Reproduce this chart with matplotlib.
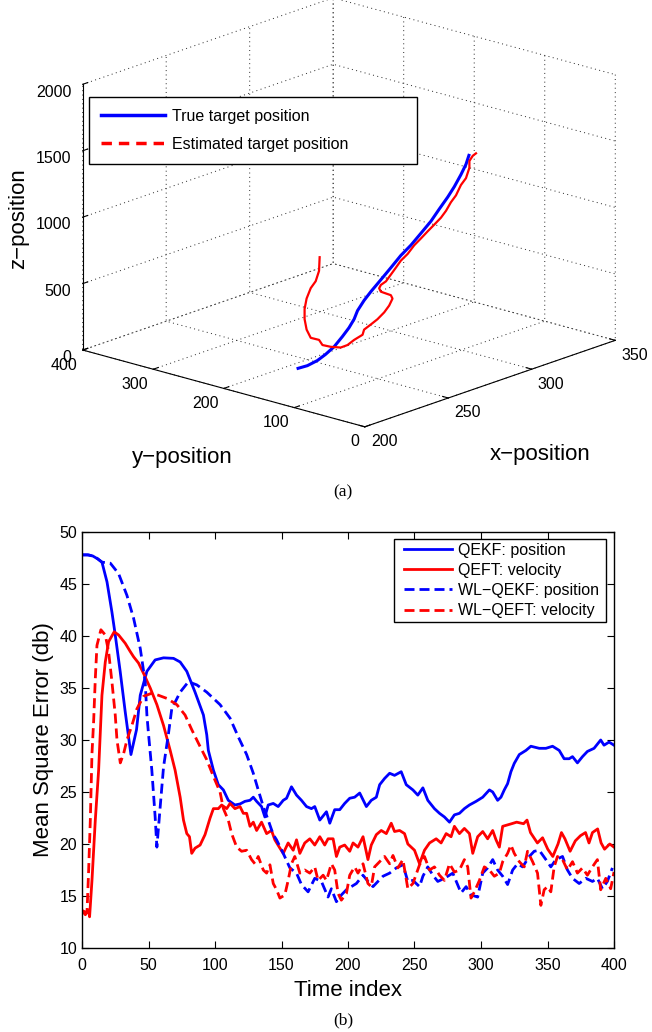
import matplotlib
matplotlib.use('Agg')
import matplotlib.pyplot as plt
from matplotlib.lines import Line2D
from matplotlib.legend_handler import HandlerLine2D

plt.rcParams['font.family'] = ['Liberation Sans', 'DejaVu Sans']
plt.rcParams['grid.linestyle'] = (0, (1, 3.5))
plt.rcParams['grid.color'] = '0.15'
plt.rcParams['grid.linewidth'] = 0.7

# ---------------- (a) 3-D trajectory ----------------
true_x = [238.3, 242.1, 245.6, 248.5, 251.5, 254.4, 256.7, 258.5, 259.7, 262.0, 264.4, 267.9,
          271.4, 274.9, 278.5, 282.0, 285.5, 288.4, 291.4, 293.7, 296.0, 297.8, 299.0]
true_y = [187.4, 181.1, 175.2, 170.4, 165.5, 160.5, 156.7, 153.7, 151.7, 147.8, 143.9, 138.0,
          132.1, 126.3, 120.4, 114.5, 108.6, 103.8, 98.8, 95.0, 91.0, 88.1, 86.1]
true_z = [0, 16, 48, 89, 140, 212, 273, 334, 396, 469, 530, 613,
          697, 782, 853, 936, 1020, 1105, 1190, 1263, 1350, 1424, 1500]

est_x = [246.4, 246.2, 245.0, 243.3, 241.8, 241.1, 241.1, 241.8, 243.3, 246.2, 247.4, 250.3,
         253.8, 256.2, 258.5, 261.5, 262.0, 264.4, 266.7, 269.1, 270.8, 272.0, 271.4, 269.7,
         267.9, 267.3, 267.9, 269.7, 271.4, 273.2, 274.9, 277.3, 279.6, 282.0, 284.3, 286.7,
         289.0, 290.8, 292.5, 294.3, 296.0, 297.8, 299.0, 299.0, 300.2, 301.3]
est_y = [173.9, 174.3, 176.2, 179.2, 181.5, 182.7, 182.7, 181.5, 179.2, 174.3, 172.3, 167.4,
         161.5, 157.6, 153.7, 148.8, 147.8, 143.9, 140.0, 136.1, 133.1, 131.2, 132.1, 135.1,
         138.0, 139.0, 138.0, 135.1, 132.1, 129.2, 126.3, 122.3, 118.4, 114.5, 110.6, 106.7,
         102.8, 99.8, 96.9, 94.0, 91.0, 88.1, 86.1, 86.1, 84.1, 82.2]
est_z = [824, 721, 646, 597, 522, 445, 368, 288, 223, 202, 161, 142,
         130, 144, 178, 211, 249, 283, 318, 365, 413, 463, 490, 506,
         523, 550, 574, 597, 645, 694, 743, 789, 850, 897, 945, 992,
         1039, 1088, 1149, 1197, 1272, 1320, 1396, 1447, 1484, 1500]

x3_ticks = [200, 250, 300, 350]
y3_ticks = [0, 100, 200, 300, 400]
z3_ticks = [0, 500, 1000, 1500, 2000]
legend_a = ['True target position', 'Estimated target position']

# ---------------- (b) mean square error ----------------
t_qekf = [0, 4, 8, 12, 15, 18.8, 22.5, 25, 28.7, 32.5,
          36.8, 41, 43.8, 48.8, 55, 61.3, 68.8, 73.8, 78.8, 85,
          91.3, 93.8, 95, 98.8, 102.5, 106.3, 110, 115, 118.8, 122.5,
          126.3, 128.8, 131.3, 135, 137.5, 140, 143.8, 147.5, 151.3, 153.8,
          157.5, 161.3, 165, 168.8, 172.5, 175, 178.8, 183.8, 186.3, 190,
          193.8, 197.5, 201.3, 205, 208.8, 213.8, 217.5, 221.3, 223.8, 227.5,
          231.3, 235, 240, 243.8, 248.8, 252.5, 256.3, 260, 265, 268.8,
          272.5, 276.3, 280, 283.8, 287.5, 291.3, 296.3, 301.3, 306.3, 308.8,
          312.5, 315, 317.5, 320, 322.5, 325, 328.8, 333.8, 337.5, 343.8,
          348.8, 353.8, 358.8, 362.5, 366.3, 368.8, 372.5, 376.3, 380, 385,
          390, 392.5, 396.3, 400]
v_qekf = [47.8, 47.8, 47.7, 47.4, 47.1, 45.2, 42.3, 40.1, 36.6, 32.7,
          28.6, 31.0, 34.3, 36.6, 37.7, 37.9, 37.85, 37.5, 36.6, 34.6,
          32.4, 30.5, 29.0, 27.1, 25.7, 25.2, 24.2, 23.75, 23.85, 24.1,
          24.2, 24.5, 24.1, 23.6, 22.6, 23.75, 23.9, 23.6, 24.2, 24.4,
          25.5, 24.7, 24.2, 23.6, 23.4, 23.6, 22.3, 23.1, 22.0, 23.3,
          23.3, 23.9, 24.4, 24.5, 24.9, 23.6, 24.2, 24.5, 25.7, 26.3,
          26.8, 26.6, 26.95, 25.7, 25.2, 24.7, 25.4, 24.2, 23.4, 22.95,
          22.6, 22.1, 22.8, 22.95, 23.4, 23.75, 24.1, 24.5, 25.2, 25.0,
          24.2, 24.5, 25.2, 25.8, 26.95, 27.75, 28.6, 29.0, 29.4, 29.2,
          29.2, 29.4, 29.0, 28.2, 28.2, 28.4, 27.8, 28.4, 28.9, 29.2,
          30.0, 29.5, 29.8, 29.5]

t_qeft = [0, 2.5, 5, 5.7, 7.5, 10, 12.5, 15, 17.5, 20,
          24.2, 27.5, 32.5, 36.3, 38.8, 42.5, 46.3, 51.3, 56.3, 61.3,
          66.3, 70, 73.8, 76.3, 78.8, 80.8, 82.5, 85, 88.8, 92.5,
          96.3, 98.8, 102.5, 105, 108.8, 111.3, 115, 118.8, 121.3, 123.8,
          126.3, 128.8, 131.3, 135, 138.8, 142.5, 145, 148.8, 151.3, 155,
          158.8, 161.3, 163.8, 167.5, 171.3, 175, 178.8, 182.5, 185, 188.8,
          191.3, 193.8, 197.5, 201.3, 203.8, 207.5, 211.3, 215, 217.5, 221.3,
          225, 228.8, 232.5, 235, 238.8, 242.5, 245, 250, 253.8, 257.5,
          261.3, 266.3, 270, 273.8, 277.5, 280, 283.8, 287.5, 291.3, 293.8,
          297.5, 301.3, 305, 308.8, 311.3, 313.8, 316.3, 323, 326.8, 332,
          334.6, 337.2, 342.4, 346.3, 350.2, 354, 357.9, 360.5, 363.1, 367,
          370.9, 374.8, 378.6, 381.2, 383.8, 387.7, 390.3, 392.9, 396.8, 400]
v_qeft = [13.6, 13.2, 13.65, 13.0, 16.5, 22.3, 27.1, 34.3, 37.5, 39.45,
          40.4, 40.1, 39.3, 38.5, 38.0, 37.4, 36.4, 35.0, 33.4, 31.4,
          29.0, 27.1, 24.5, 22.3, 21.0, 20.7, 19.1, 19.6, 19.9, 20.9,
          22.5, 23.4, 23.4, 23.75, 23.4, 23.9, 23.4, 23.6, 22.95, 22.95,
          21.7, 22.1, 21.3, 22.1, 21.0, 21.3, 20.4, 19.6, 19.1, 20.1,
          19.4, 20.4, 19.1, 20.1, 20.5, 19.9, 20.7, 19.9, 20.5, 20.5,
          18.8, 19.7, 19.9, 19.3, 20.1, 19.7, 20.7, 18.5, 19.9, 20.9,
          21.3, 21.0, 22.0, 21.2, 21.3, 21.0, 20.0, 19.4, 18.1, 19.4,
          20.1, 20.5, 20.1, 21.0, 20.7, 21.7, 21.0, 21.5, 21.0, 19.1,
          20.7, 21.2, 20.5, 21.3, 20.4, 19.7, 21.7, 21.95, 22.1, 21.95,
          22.3, 21.1, 20.1, 20.6, 19.5, 18.8, 20.0, 21.1, 20.5, 19.3,
          20.3, 20.8, 21.1, 20.1, 21.1, 21.45, 20.1, 19.5, 20.0, 19.7]

t_wlqekf = [0, 5, 10, 15, 21.3, 27.5, 33.8, 38.8, 43.8, 47.5,
            48.8, 50, 52.5, 55, 56.3, 58.8, 61.3, 65, 67.5, 73.8,
            80, 86.3, 93.8, 103.8, 111.3, 117.5, 123.8, 128.8, 132.5, 136.3,
            140, 143.8, 146.3, 151.3, 156.3, 161.3, 165, 170, 175, 180,
            185, 187.5, 191.3, 195, 198.8, 202.5, 206.3, 211.3, 215, 218.8,
            222.5, 226.3, 231.3, 236.3, 241.3, 245, 248.8, 253.8, 256.3, 260,
            263.8, 267.5, 272.5, 278.8, 285, 288.8, 292.5, 297.5, 301.3, 305,
            308.8, 312.5, 316.3, 320, 323.8, 327.5, 331.3, 336.3, 340, 343.8,
            348.8, 352.5, 356.3, 361.3, 365, 368.8, 373.8, 378.8, 383.8, 387.5,
            391.3, 395, 398.8]
v_wlqekf = [47.8, 47.8, 47.6, 47.1, 47.0, 46.0, 43.9, 41.7, 38.8, 35.6,
            32.4, 30.6, 27.1, 22.6, 19.7, 23.6, 27.4, 30.6, 33.0, 34.6,
            35.6, 35.3, 34.6, 33.4, 32.1, 30.3, 28.6, 26.8, 25.2, 23.6,
            22.3, 20.9, 20.4, 19.1, 17.7, 17.2, 16.1, 15.4, 16.7, 16.4,
            14.9, 15.7, 14.45, 15.1, 15.6, 15.9, 16.2, 17.0, 16.4, 15.9,
            16.4, 16.9, 17.2, 17.7, 18.0, 16.4, 16.5, 15.9, 16.9, 17.8,
            17.0, 16.4, 16.7, 17.2, 15.3, 15.9, 15.1, 14.9, 17.2, 17.7,
            18.5, 17.5, 16.9, 16.1, 17.5, 18.1, 17.8, 18.8, 19.3, 19.4,
            18.5, 17.8, 18.5, 18.8, 17.5, 16.7, 16.2, 16.7, 16.4, 16.7,
            15.7, 16.4, 17.7]

t_wlqeft = [0, 3.75, 5, 6.25, 7.5, 8.75, 10, 11.25, 14.2, 17.5,
            20, 22.5, 25, 26.3, 28.8, 31.3, 33.8, 37.5, 41.3, 46.3,
            52.5, 57.5, 63.8, 71.3, 77.5, 82.5, 87.5, 93.8, 98.8, 103.8,
            106.3, 110, 112.5, 116.3, 120, 123.8, 127.5, 130, 132.5, 136.3,
            138.8, 141.3, 143.8, 146.3, 148.8, 152.5, 155, 157.5, 160, 163.8,
            167.5, 171.3, 175, 177.5, 181.3, 183.8, 187.5, 190, 192.5, 195,
            198.8, 201.3, 205, 207.5, 211.3, 215, 217.5, 220, 223.8, 227.5,
            231.3, 233.8, 237.5, 241.3, 245, 248.8, 253.8, 257.5, 261.3, 265,
            268.8, 272.5, 276.3, 280, 283.8, 287.5, 290, 292.5, 295, 298.8,
            302.5, 306.3, 310, 313.8, 316.3, 320, 322.5, 325, 328.8, 332.5,
            335, 338.8, 342.5, 345, 347.5, 350, 352.5, 355, 357.5, 361.3,
            365, 368.8, 372.5, 376.3, 380, 383.8, 387.5, 390, 393.8, 397.5,
            400]
v_wlqeft = [13.6, 13.4, 17.5, 22.3, 28.7, 31.8, 35.9, 39.1, 40.6, 40.1,
            38.5, 35.6, 32.4, 30.0, 27.8, 28.7, 30.0, 31.4, 33.0, 34.2,
            34.5, 34.3, 34.0, 33.4, 32.4, 31.0, 29.7, 28.1, 26.5, 25.0,
            23.4, 22.3, 21.0, 19.7, 19.3, 19.4, 18.5, 18.1, 18.8, 17.5,
            17.2, 18.0, 16.2, 15.6, 14.8, 15.1, 16.5, 18.1, 18.8, 17.2,
            17.5, 17.2, 17.8, 16.5, 17.0, 16.5, 18.1, 17.5, 15.25, 14.6,
            15.25, 17.0, 17.8, 17.2, 18.1, 16.2, 15.9, 17.8, 18.3, 18.8,
            18.1, 18.9, 17.7, 18.5, 15.7, 16.2, 18.0, 18.8, 17.5, 17.8,
            17.0, 16.5, 18.1, 17.3, 17.5, 18.5, 17.8, 14.8, 15.4, 16.5,
            17.8, 17.5, 16.9, 17.2, 18.3, 19.1, 19.9, 19.1, 18.3, 17.8,
            19.3, 18.3, 17.2, 14.1, 15.6, 15.9, 15.4, 17.8, 18.8, 18.5,
            17.5, 18.3, 17.2, 17.7, 17.0, 17.8, 18.5, 15.6, 16.7, 15.7,
            17.3]

x_ticks_b = [0, 50, 100, 150, 200, 250, 300, 350, 400]
y_ticks_b = [10, 15, 20, 25, 30, 35, 40, 45, 50]
legend_b = ['QEKF: position', 'QEFT: velocity', 'WL\u2212QEKF: position', 'WL\u2212QEFT: velocity']

BLUE = '#0000ff'
RED = '#ff0000'
W, H = 652.0, 1032.0

fig = plt.figure(figsize=(6.52, 10.32), dpi=100)

# ---------------- 3-D axes ----------------
ax3 = fig.add_axes([16.3 / W, 1 - 466.7 / H, 1.0, 0.48], projection='3d')
ax3.set_proj_type('ortho')
ax3.view_init(elev=17.85, azim=-138.4)
ax3.set_box_aspect((1, 1, 0.74), zoom=1.18)
ax3.plot(true_x, true_y, true_z, color=BLUE, lw=2.2, solid_capstyle='butt')
ax3.plot(est_x, est_y, est_z, color=RED, lw=1.6)
ax3.set_xlim(200, 350)
ax3.set_ylim(0, 400)
ax3.set_zlim(0, 2000)
ax3.set_xticks(x3_ticks)
ax3.set_yticks(y3_ticks)
ax3.set_zticks(z3_ticks)
for axis in (ax3.xaxis, ax3.yaxis, ax3.zaxis):
    axis.set_pane_color((1, 1, 1, 0))
    axis.line.set_color('black')
    axis.line.set_linewidth(0.8)
    axis._axinfo['tick']['inward_factor'] = 0.0
    axis._axinfo['tick']['outward_factor'] = 0.25
    axis.set_rotate_label(False)
ax3.tick_params(labelsize=11.5, pad=-4)
plt.setp(ax3.get_xticklabels(), ha='left')
plt.setp(ax3.get_yticklabels(), ha='right')
plt.setp(ax3.get_zticklabels(), ha='right')
ax3.xaxis._axinfo['label']['va'] = 'top'
ax3.yaxis._axinfo['label']['va'] = 'top'
ax3.set_xlabel('x\u2212position', fontsize=16, rotation=0, labelpad=12)
ax3.set_ylabel('y\u2212position', fontsize=16, rotation=0, labelpad=10)
ax3.set_zlabel('z\u2212position', fontsize=16, rotation=90, labelpad=1.5)

h3 = [Line2D([], [], color=BLUE, lw=2.5), Line2D([], [], color=RED, lw=2.5, ls=(0, (3.0, 2.0)))]
leg3 = ax3.legend(h3, legend_a, loc='upper left', mode='expand',
                  bbox_to_anchor=(89 / W, 1 - 97 / H - 0.01, (417 - 89) / W, 0.01),
                  bbox_transform=fig.transFigure, borderaxespad=0, fontsize=11.5,
                  handlelength=4.0, handletextpad=0.45, labelspacing=0.84, borderpad=0.73,
                  fancybox=False, framealpha=1, edgecolor='black')
leg3.get_frame().set_linewidth(1.0)

fig.text(343 / W, 1 - 492 / H, '(a)', family='Liberation Serif', fontsize=12.5,
         ha='center', va='center')

# ---------------- 2-D axes ----------------
ax = fig.add_axes([82 / W, 84 / H, 532 / W, 416 / H])
ax.plot(t_qekf, v_qekf, color=BLUE, lw=2.0, label=legend_b[0])
ax.plot(t_qeft, v_qeft, color=RED, lw=2.0, label=legend_b[1])
ax.plot(t_wlqekf, v_wlqekf, color=BLUE, lw=2.0, ls=(0, (3.6, 1.8)), label=legend_b[2])
ax.plot(t_wlqeft, v_wlqeft, color=RED, lw=2.0, ls=(0, (3.6, 1.8)), label=legend_b[3])
ax.set_xlim(0, 400)
ax.set_ylim(10, 50)
ax.set_xticks(x_ticks_b)
ax.set_yticks(y_ticks_b)
ax.tick_params(direction='in', top=True, right=True, length=5, width=0.8, labelsize=11.5)
ax.tick_params(axis='x', pad=7.5)
for s in ax.spines.values():
    s.set_linewidth(1.0)
ax.set_xlabel('Time index', fontsize=16, labelpad=4.5)
ax.set_ylabel('Mean Square Error (db)', fontsize=16, labelpad=4)
leg = ax.legend(loc='upper left', mode='expand',
                bbox_to_anchor=(394 / W, 1 - 539 / H - 0.01, (606 - 394) / W, 0.01),
                bbox_transform=fig.transFigure, borderaxespad=0, fontsize=11.5,
                handlelength=3.8, handletextpad=0.0, labelspacing=0.33, borderpad=0.22,
                handler_map={Line2D: HandlerLine2D(numpoints=2, marker_pad=0.4)},
                fancybox=False, framealpha=1, edgecolor='black')
leg.get_frame().set_linewidth(1.0)

fig.text(343 / W, 1 - 1020 / H, '(b)', family='Liberation Serif', fontsize=12.5,
         ha='center', va='center')

fig.savefig('out.png', dpi=100, facecolor='white')
